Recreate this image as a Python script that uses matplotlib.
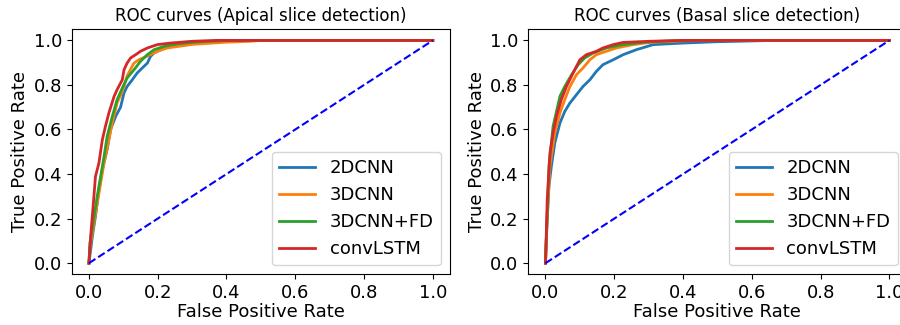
import matplotlib
matplotlib.use("Agg")
import matplotlib.pyplot as plt

# ROC points: (false positive rate, true positive rate)
apical_fpr = {
    "2DCNN": [0, 0.010, 0.019, 0.029, 0.039, 0.053, 0.063, 0.078, 0.092, 0.102, 0.111, 0.126,
              0.140, 0.155, 0.170, 0.179, 0.189, 0.218, 0.257, 0.32, 0.40, 1.0],
    "3DCNN": [0, 0.003, 0.019, 0.032, 0.044, 0.056, 0.068, 0.082, 0.097, 0.111, 0.121, 0.131,
              0.145, 0.170, 0.199, 0.228, 0.30, 0.40, 0.47, 0.50, 1.0],
    "3DCNN+FD": [0, 0.003, 0.015, 0.024, 0.034, 0.044, 0.053, 0.068, 0.082, 0.097, 0.111, 0.131,
                 0.150, 0.170, 0.189, 0.218, 0.257, 0.33, 0.42, 1.0],
    "convLSTM": [0, 0.005, 0.013, 0.019, 0.029, 0.039, 0.048, 0.058, 0.073, 0.082, 0.097, 0.102,
                 0.111, 0.121, 0.136, 0.150, 0.170, 0.199, 0.237, 0.30, 0.373, 1.0],
}
apical_tpr = {
    "2DCNN": [0, 0.12, 0.21, 0.33, 0.42, 0.51, 0.60, 0.66, 0.70, 0.764, 0.793, 0.823,
              0.853, 0.876, 0.898, 0.928, 0.943, 0.966, 0.980, 0.992, 1.0, 1.0],
    "3DCNN": [0, 0.07, 0.22, 0.34, 0.45, 0.54, 0.63, 0.72, 0.77, 0.84, 0.87, 0.898,
              0.913, 0.93, 0.951, 0.966, 0.982, 0.992, 0.996, 1.0, 1.0],
    "3DCNN+FD": [0, 0.09, 0.209, 0.299, 0.389, 0.479, 0.569, 0.659, 0.734, 0.786, 0.831, 0.868,
                 0.906, 0.936, 0.958, 0.973, 0.985, 0.995, 1.0, 1.0],
    "convLSTM": [0, 0.12, 0.27, 0.389, 0.449, 0.554, 0.614, 0.674, 0.748, 0.779, 0.823, 0.868,
                 0.898, 0.921, 0.936, 0.951, 0.966, 0.981, 0.988, 0.996, 1.0, 1.0],
}

basal_fpr = {
    "2DCNN": [0, 0.003, 0.010, 0.017, 0.027, 0.042, 0.056, 0.071, 0.090, 0.109, 0.129, 0.148,
              0.167, 0.197, 0.226, 0.264, 0.313, 0.40, 0.497, 0.642, 0.70, 1.0],
    "3DCNN": [0, 0.005, 0.013, 0.027, 0.042, 0.056, 0.071, 0.090, 0.109, 0.129, 0.148, 0.177,
              0.206, 0.255, 0.303, 0.40, 0.50, 1.0],
    "3DCNN+FD": [0, 0.003, 0.010, 0.022, 0.042, 0.056, 0.076, 0.095, 0.114, 0.138, 0.177, 0.226,
                 0.284, 0.351, 0.42, 1.0],
    "convLSTM": [0, 0.005, 0.013, 0.022, 0.032, 0.046, 0.061, 0.080, 0.100, 0.119, 0.148, 0.167,
                 0.197, 0.226, 0.303, 0.40, 1.0],
}
basal_tpr = {
    "2DCNN": [0, 0.135, 0.344, 0.434, 0.539, 0.629, 0.681, 0.719, 0.756, 0.793, 0.823, 0.861,
              0.891, 0.913, 0.936, 0.958, 0.981, 0.988, 0.994, 0.999, 1.0, 1.0],
    "3DCNN": [0, 0.21, 0.434, 0.584, 0.674, 0.734, 0.793, 0.846, 0.876, 0.913, 0.936, 0.951,
              0.966, 0.981, 0.991, 0.998, 1.0, 1.0],
    "3DCNN+FD": [0, 0.135, 0.434, 0.614, 0.749, 0.793, 0.846, 0.891, 0.921, 0.943, 0.966, 0.981,
                 0.991, 0.997, 1.0, 1.0],
    "convLSTM": [0, 0.284, 0.494, 0.584, 0.659, 0.734, 0.793, 0.853, 0.913, 0.936, 0.951, 0.966,
                 0.981, 0.991, 0.996, 1.0, 1.0],
}

models = ["2DCNN", "3DCNN", "3DCNN+FD", "convLSTM"]
colors = ["tab:blue", "tab:orange", "tab:green", "tab:red"]
titles = ["ROC curves (Apical slice detection)", "ROC curves (Basal slice detection)"]
ticks = [0.0, 0.2, 0.4, 0.6, 0.8, 1.0]

fig = plt.figure(figsize=(9, 3.25), dpi=100)
# the right panel runs past the figure edge, as in the reference
ax1 = fig.add_axes([0.0797, 0.156, 0.4203, 0.754])
ax2 = fig.add_axes([0.587, 0.156, 0.4203, 0.754])

panels = [(ax1, apical_fpr, apical_tpr), (ax2, basal_fpr, basal_tpr)]
for i, (ax, fpr, tpr) in enumerate(panels):
    for name, c in zip(models, colors):
        ax.plot(fpr[name], tpr[name], color=c, lw=2, label=name)
    ax.plot([0, 1], [0, 1], "b--", lw=1.5)
    ax.set_xticks(ticks)
    ax.set_yticks(ticks)
    ax.tick_params(labelsize=13)
    ax.set_xlabel("False Positive Rate", fontsize=13, labelpad=1)
    ax.set_ylabel("True Positive Rate", fontsize=13, labelpad=3)
    ax.set_title(titles[i], fontsize=12)
    ax.legend(loc="lower right", fontsize=13)

fig.savefig("out.png", dpi=100)
